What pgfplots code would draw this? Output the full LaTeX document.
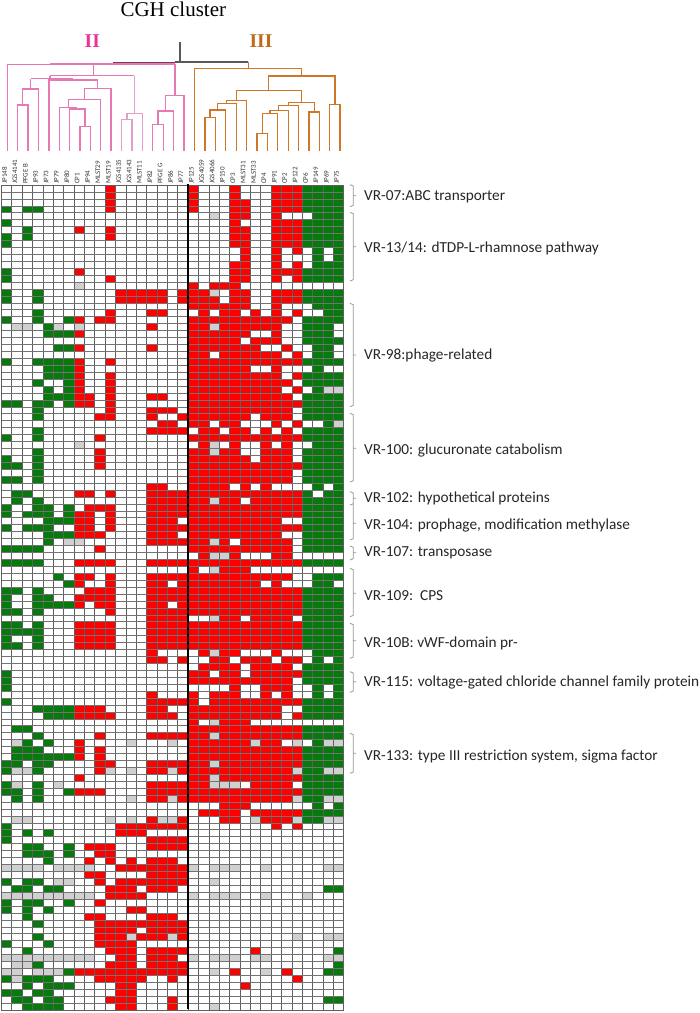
\documentclass[border=0pt]{standalone}
\usepackage{fontspec}
\setmainfont{Carlito}
\newfontfamily\serif{Liberation Serif}
\usepackage{pgfplots}
\usepackage{pgfplotstable}
\pgfplotsset{compat=1.18}
\definecolor{hred}{RGB}{254,0,0}
\definecolor{hgreen}{RGB}{6,122,12}
\definecolor{hgray}{RGB}{208,208,208}
\definecolor{gline}{RGB}{95,95,95}
\definecolor{dpink}{RGB}{230,120,180}
\definecolor{dpale}{RGB}{226,160,200}
\definecolor{dorange}{RGB}{208,118,40}
\definecolor{iipink}{RGB}{236,50,146}
\definecolor{iiiorange}{RGB}{190,106,24}
\definecolor{brace}{RGB}{150,150,150}
% one filled cell of the heat map, size in pt
\pgfdeclareplotmark{cell}{%
  \pgfpathrectangle{\pgfpoint{-5.25pt}{-3.5pt}}{\pgfpoint{10.5pt}{7pt}}%
  \pgfusepathqfill}
% 0 absent, 1 red, 2 green, 3 gray; rows top to bottom, 33 strains
\pgfplotstableread[header=false]{
0 0 0 0 0 0 0 0 0 0 1 0 0 0 0 0 0 0 1 0 0 0 1 0 0 0 1 1 1 2 2 2 2
0 0 0 0 0 0 0 0 0 0 1 0 0 0 0 0 0 0 1 0 0 0 1 0 0 0 1 1 1 2 2 2 2
0 0 0 0 0 0 0 0 0 0 1 0 0 0 0 0 0 0 1 0 0 0 1 1 0 0 1 1 1 2 2 2 2
2 0 2 2 0 0 0 0 0 0 1 0 0 0 0 0 0 0 1 0 0 0 1 1 0 0 1 1 1 2 2 2 2
0 0 0 0 0 0 0 0 0 0 0 0 0 0 0 0 0 0 0 0 3 0 1 1 0 0 1 0 0 0 2 2 2
2 0 0 0 0 0 0 0 0 0 0 0 0 0 0 0 0 0 0 0 0 0 1 0 0 0 1 1 1 2 2 2 2
0 0 2 0 0 0 0 1 0 0 1 0 0 0 0 0 0 0 0 0 0 0 1 1 0 0 1 1 1 2 2 2 2
2 0 2 0 0 0 0 0 0 0 1 0 0 0 0 0 0 0 0 0 0 0 1 1 0 0 1 1 1 2 2 2 2
2 0 0 0 0 0 0 0 0 0 0 0 0 0 0 0 0 0 0 0 0 0 1 1 0 0 1 1 1 2 2 2 2
0 0 0 0 0 0 0 0 0 0 0 0 0 0 0 0 0 0 0 0 0 0 0 1 0 0 1 0 1 0 2 0 2
0 0 0 0 0 0 0 0 0 0 0 0 0 0 0 0 0 0 0 0 0 0 0 1 0 0 1 0 0 0 2 0 2
0 0 0 0 0 0 0 0 0 0 0 0 0 0 0 0 0 0 0 0 0 0 1 1 0 0 1 0 1 0 2 2 2
2 0 0 0 0 0 0 1 0 0 0 0 0 0 0 0 0 0 0 0 0 0 1 1 0 0 1 1 1 2 2 2 2
2 0 0 0 0 0 0 0 0 0 1 0 0 0 0 0 0 0 0 0 0 0 1 1 0 0 1 0 1 2 2 2 2
0 0 0 0 0 0 0 3 0 0 0 0 0 0 0 0 0 0 1 0 1 1 1 0 0 0 0 0 0 0 0 0 0
2 0 0 2 0 0 0 0 0 0 0 1 1 1 1 1 0 1 1 1 3 0 1 1 0 0 1 1 1 2 2 2 2
2 0 0 2 0 0 0 0 0 0 0 1 1 1 1 1 0 1 1 1 1 0 1 1 0 0 1 1 1 2 2 2 2
0 0 0 0 0 0 0 0 0 0 0 0 0 0 0 0 0 0 1 1 1 1 1 1 0 0 1 0 0 0 2 2 2
0 0 0 2 0 0 0 0 0 0 1 0 0 0 1 1 0 0 0 1 0 1 1 0 1 0 1 0 1 0 0 2 2
2 0 0 2 0 0 2 1 0 1 1 0 0 0 0 0 0 0 1 1 1 1 1 1 1 1 1 1 0 2 2 2 2
0 3 3 0 2 3 0 3 0 0 0 0 0 0 1 0 0 0 1 1 3 1 1 1 1 1 1 0 0 2 2 2 0
0 0 0 0 2 2 2 1 0 0 0 0 0 0 0 0 0 0 1 1 1 1 1 1 0 0 1 0 0 2 2 2 0
0 0 0 0 0 0 0 0 0 0 0 0 0 0 0 0 0 0 1 1 1 1 1 0 1 1 1 0 0 2 2 2 2
0 0 0 0 0 2 2 1 0 0 0 0 0 0 1 0 0 0 1 1 1 1 1 1 1 0 0 1 0 0 2 2 0
0 0 0 0 0 0 0 0 0 0 0 0 0 0 0 0 0 0 1 1 0 1 1 1 1 1 1 0 1 0 2 2 0
2 0 0 2 2 2 2 1 0 0 1 0 0 0 0 0 0 0 1 1 1 1 1 1 1 1 1 1 1 2 2 2 2
0 0 0 0 2 2 2 1 0 0 0 0 0 0 0 0 0 0 1 1 1 1 1 1 0 0 1 0 0 0 2 0 0
0 0 0 0 2 2 2 1 0 0 1 0 0 0 0 0 0 0 1 1 1 1 1 1 1 1 1 0 1 2 2 2 2
0 0 0 2 0 0 2 1 0 0 1 0 0 0 0 0 0 0 1 1 1 1 1 1 1 1 1 1 0 2 2 2 2
0 0 0 0 2 0 2 1 0 0 1 0 0 0 0 0 0 0 1 1 1 1 1 1 1 1 1 0 1 0 2 3 3
0 0 0 0 2 2 2 1 1 0 1 0 0 0 1 1 0 0 1 1 1 1 1 1 1 1 1 1 0 2 2 2 2
2 2 0 2 2 0 2 1 1 0 1 0 0 0 0 0 0 0 1 1 1 1 1 1 1 1 1 1 1 2 2 2 2
0 0 0 2 0 0 0 0 0 0 1 0 0 0 1 1 1 0 1 1 1 1 1 1 1 1 1 1 0 2 2 2 2
0 0 0 2 0 0 0 0 0 1 1 0 0 0 1 0 0 1 1 1 1 1 1 1 0 1 1 1 0 2 2 2 2
0 0 0 0 0 0 0 0 0 0 0 0 0 0 0 1 1 0 1 1 0 1 1 0 0 0 1 0 1 0 0 2 3
0 0 0 2 0 0 0 0 0 0 0 0 0 0 1 1 1 1 0 1 1 0 1 1 0 1 0 1 0 2 2 2 2
2 0 0 2 0 0 0 0 0 1 0 0 0 0 0 0 0 0 1 1 1 1 1 1 1 1 1 1 1 2 2 2 2
0 0 0 0 0 0 0 3 0 0 0 0 0 0 0 0 0 0 0 1 3 0 1 0 0 1 0 1 0 0 2 2 2
0 0 0 2 0 0 0 0 0 1 0 0 0 0 0 0 0 0 1 1 3 1 1 0 0 1 1 1 0 2 2 2 2
2 0 0 2 0 0 0 0 0 1 0 0 0 0 0 0 0 0 1 1 1 1 1 1 0 1 1 1 0 2 2 2 2
2 2 0 2 0 0 0 0 0 1 0 0 0 0 0 0 0 0 1 1 1 1 1 1 1 1 1 1 1 2 2 2 2
0 0 0 2 0 0 0 0 0 0 0 0 0 0 0 0 0 0 1 1 1 1 1 1 1 1 1 1 0 2 2 2 2
2 2 0 2 0 0 0 0 0 0 0 0 0 0 0 0 0 0 1 1 1 1 1 1 1 1 1 1 0 2 2 2 2
0 0 0 0 0 0 0 0 0 0 0 0 0 0 1 1 0 0 1 1 1 1 0 1 0 1 0 0 0 0 2 0 2
0 2 2 0 0 0 0 1 1 0 1 0 0 0 1 1 1 1 1 1 1 1 1 1 1 1 1 1 1 2 0 2 2
0 2 0 2 0 0 0 0 0 0 0 0 0 0 1 1 1 1 1 1 3 1 1 0 1 1 1 1 1 2 2 2 2
2 0 0 2 2 0 2 0 1 1 1 0 0 0 1 1 1 1 1 1 1 1 1 1 1 1 1 1 1 2 2 2 2
2 0 2 2 2 0 2 1 1 0 1 0 0 0 1 1 1 1 1 1 1 1 1 1 1 1 1 1 1 2 2 2 2
0 0 0 0 2 2 2 1 1 0 1 0 0 0 1 1 1 0 1 1 1 1 1 1 1 1 1 0 0 2 2 2 2
2 0 2 2 2 0 0 1 1 0 1 0 0 0 1 1 1 1 1 1 1 1 1 1 1 1 1 1 1 2 2 2 2
0 0 0 0 2 2 2 1 1 1 0 0 0 0 1 1 1 0 1 1 1 1 1 1 1 1 1 0 0 2 2 2 2
0 0 0 0 2 0 3 3 0 0 0 0 0 0 1 1 1 1 1 1 3 1 0 1 1 1 1 1 0 2 2 2 2
2 2 2 2 0 0 0 0 0 1 0 0 0 0 0 0 0 0 1 1 1 1 1 1 1 1 1 1 0 2 2 2 2
0 0 0 0 0 0 0 0 0 0 0 0 0 0 0 0 0 0 0 1 3 3 1 0 0 0 1 1 0 0 0 0 0
2 2 2 2 0 0 0 1 1 1 1 0 0 0 1 1 1 1 1 1 1 1 1 1 1 1 1 1 1 2 2 2 2
0 0 0 0 0 0 0 0 0 0 0 0 0 0 0 0 0 0 1 0 3 1 1 1 0 0 0 0 0 0 0 0 0
0 0 0 0 0 2 0 1 1 0 1 0 0 0 1 1 1 1 1 1 1 1 1 1 1 1 1 1 0 0 2 2 2
0 0 0 0 0 0 2 1 0 0 1 0 0 0 1 1 0 1 1 1 1 1 1 1 1 0 1 0 0 0 2 2 0
2 2 0 2 0 0 0 0 1 1 1 0 0 0 1 1 1 1 1 1 1 1 1 1 1 1 1 1 1 2 2 2 2
2 0 0 2 2 0 0 1 1 1 1 0 0 0 1 1 1 1 1 1 1 1 1 1 1 1 1 1 1 2 2 2 2
2 0 0 2 2 2 2 1 0 1 1 0 0 0 1 1 0 1 1 1 1 1 1 1 1 1 1 1 1 2 2 2 2
2 2 0 2 0 0 0 0 0 0 1 0 0 0 1 1 1 1 1 1 1 1 1 1 1 1 1 1 1 2 2 2 2
0 0 0 0 0 0 0 0 0 0 0 0 0 0 1 1 1 1 0 0 3 1 1 0 1 1 1 1 0 2 2 2 2
2 2 0 2 0 0 0 1 1 1 1 0 0 0 1 1 1 1 1 1 1 1 1 1 1 1 1 1 1 2 2 2 2
2 2 2 2 0 0 0 1 1 1 1 0 0 0 1 1 1 1 1 1 1 1 1 1 1 1 1 1 1 2 2 2 2
2 0 0 2 0 0 0 1 1 1 1 0 0 0 1 1 1 1 1 1 1 1 1 1 1 1 1 1 1 2 2 2 2
2 2 0 2 0 0 0 1 1 1 1 0 0 0 1 1 1 1 1 1 1 1 1 1 1 1 1 1 1 2 2 2 2
0 0 0 0 0 0 0 0 0 0 0 0 0 0 1 0 0 0 0 1 3 1 1 0 0 0 1 0 0 0 2 2 2
0 0 0 0 0 0 0 0 0 0 0 0 0 0 1 1 0 1 0 0 1 1 0 1 1 1 0 1 1 0 2 0 2
0 0 0 0 0 0 0 0 0 0 0 0 0 0 0 0 0 0 0 1 1 1 1 0 1 1 1 1 0 2 2 2 2
2 0 0 0 0 0 0 0 0 0 0 0 0 0 0 0 0 0 1 1 0 1 1 0 1 1 1 1 1 2 2 2 2
2 0 0 0 0 0 0 0 0 0 0 0 0 0 0 0 0 0 1 1 1 1 1 1 1 1 1 1 0 2 2 2 2
2 0 0 0 0 0 0 0 0 0 0 0 0 0 0 0 0 0 0 0 0 0 1 0 0 1 1 1 0 0 2 0 2
0 0 0 0 0 0 0 0 0 0 0 0 0 0 1 0 0 0 1 0 1 1 1 0 0 1 0 1 0 0 2 0 2
2 0 0 0 0 0 0 0 0 0 0 0 0 0 1 1 1 1 1 0 1 1 1 1 1 1 1 1 1 2 2 2 2
0 0 0 2 2 2 2 1 1 1 0 0 0 0 1 1 0 0 1 1 1 1 1 1 1 1 1 0 0 2 2 2 2
0 0 0 0 2 2 2 1 1 1 1 0 0 0 1 1 1 0 1 1 1 1 1 1 1 1 1 0 1 2 2 2 2
0 0 0 0 0 0 0 0 0 0 0 0 0 0 0 0 0 0 1 0 3 1 1 1 0 0 0 0 0 0 0 0 0
0 2 2 0 0 0 0 0 0 0 0 0 0 0 0 0 0 0 1 1 1 1 1 1 1 1 1 1 1 2 2 2 2
0 0 0 2 0 0 0 0 0 1 0 0 0 0 1 1 1 1 1 1 3 1 1 1 1 1 1 1 1 2 2 2 2
0 3 2 0 2 0 0 1 0 0 0 0 3 0 0 0 3 0 1 1 1 1 1 1 3 1 1 0 3 0 2 3 3
0 2 2 2 0 0 0 1 0 1 0 0 0 0 0 0 0 0 1 1 1 1 1 1 1 1 1 1 1 2 2 2 2
0 2 2 2 2 2 2 1 0 1 0 0 0 0 0 0 0 0 1 1 1 1 1 1 1 1 1 1 1 2 2 2 2
2 2 0 2 2 0 0 0 0 1 1 0 0 0 1 1 1 1 1 1 3 1 1 1 1 1 1 1 1 2 2 2 2
2 3 3 2 0 0 0 0 0 1 3 0 3 0 1 1 3 1 1 1 1 1 1 1 1 1 1 1 3 2 2 3 3
0 0 0 0 0 0 0 1 0 0 0 0 0 0 0 0 0 0 1 1 3 1 1 1 1 1 1 1 1 2 2 2 2
2 3 0 2 0 3 0 0 0 0 0 0 0 0 1 1 1 1 1 1 3 3 3 0 1 1 1 1 0 2 2 2 2
2 2 0 2 0 0 2 1 1 1 0 0 0 0 1 1 1 1 1 1 1 1 1 1 1 1 1 1 1 2 2 2 2
0 2 0 2 0 0 0 0 0 0 0 0 3 0 1 1 3 1 1 1 1 1 1 1 1 1 1 1 3 2 2 3 3
0 0 0 0 0 0 0 0 0 0 0 0 0 0 0 0 0 0 0 0 0 1 1 1 0 0 0 0 0 0 2 0 2
0 0 0 0 0 0 0 0 0 0 0 0 0 0 0 0 0 0 0 1 1 1 1 0 1 1 1 1 1 2 2 2 2
0 3 3 0 0 0 0 0 0 0 3 0 3 0 1 3 3 1 0 0 0 1 1 0 3 1 1 1 3 2 2 3 3
2 0 0 0 0 0 0 0 0 0 0 1 1 1 1 1 1 1 0 0 0 0 0 0 0 0 1 0 1 0 0 0 0
2 0 2 0 2 0 0 0 0 0 0 1 1 1 0 0 0 0 0 0 0 0 0 0 0 0 0 0 0 0 0 0 0
2 0 0 0 0 0 0 0 0 0 0 0 0 0 1 1 1 1 0 0 0 0 0 0 0 0 0 0 0 0 0 0 0
0 0 2 2 0 0 2 0 1 1 1 0 0 0 1 1 1 1 0 0 0 0 0 0 0 0 0 0 0 0 0 0 0
0 0 2 2 2 0 2 0 0 1 1 0 0 0 0 0 0 0 0 0 0 0 0 0 0 0 0 0 0 0 0 0 0
0 0 0 0 2 0 0 0 1 0 1 0 1 0 1 1 1 0 0 0 0 0 0 0 0 0 0 0 0 0 0 0 0
3 3 3 3 0 3 3 3 3 0 0 1 1 1 1 1 1 1 3 0 3 3 3 0 0 3 0 0 0 0 0 3 3
0 0 0 0 0 0 0 0 1 1 0 0 0 0 1 1 1 1 0 0 0 0 0 0 0 0 0 0 0 0 0 0 0
2 0 2 2 0 3 3 0 0 1 0 1 1 1 1 1 1 1 0 0 3 0 0 0 0 0 0 0 0 0 0 0 0
0 2 2 0 2 2 0 0 0 0 1 1 1 0 1 1 1 0 0 0 0 0 0 0 0 0 0 0 0 0 0 2 2
3 3 3 3 3 3 3 3 3 0 1 1 1 1 0 0 0 0 3 0 3 3 3 0 0 3 0 0 0 3 0 0 0
2 0 2 2 0 0 2 0 0 1 0 0 0 0 0 0 0 0 0 0 0 0 0 0 0 0 0 0 0 0 0 0 0
2 0 2 0 2 0 0 0 0 0 0 0 1 1 0 0 0 0 0 0 0 0 0 0 0 0 0 0 0 0 0 0 0
0 0 2 0 0 0 0 0 1 1 0 0 0 0 1 1 1 0 0 0 0 0 0 0 0 0 0 0 0 0 0 0 0
0 0 0 2 0 0 0 0 0 1 1 1 1 1 1 1 1 1 0 0 0 0 0 0 0 0 0 0 0 0 0 0 0
0 0 0 0 0 0 0 0 0 1 1 1 1 0 1 1 1 1 0 0 0 0 0 0 0 0 0 0 0 0 0 0 0
0 0 0 2 0 0 0 0 0 1 1 1 3 1 1 1 3 1 0 0 0 0 0 0 0 0 0 0 3 0 0 3 3
2 0 0 0 2 0 0 0 0 1 1 1 1 0 0 0 0 0 0 0 0 0 0 0 0 0 0 0 0 0 0 0 0
0 0 2 0 0 0 0 0 0 0 1 1 1 0 1 1 1 1 0 0 0 0 0 0 1 0 0 0 0 0 0 0 2
3 3 3 3 3 3 3 3 3 0 0 1 1 0 1 1 1 0 3 0 3 3 3 0 3 3 0 0 0 0 0 3 3
0 3 3 2 0 0 0 0 0 0 1 1 1 0 1 1 1 1 0 0 0 0 0 0 0 0 0 0 0 0 0 0 2
3 3 0 3 3 3 2 1 1 1 1 1 1 1 1 1 1 1 0 0 3 0 1 0 0 3 0 1 0 0 0 2 2
2 3 2 2 2 0 0 0 0 1 1 1 1 1 0 0 1 0 0 0 0 0 0 0 0 0 0 0 1 0 0 0 0
0 0 2 0 2 2 2 0 0 0 0 1 1 0 0 0 0 0 0 0 0 0 0 1 0 0 0 0 0 0 0 0 0
2 2 0 2 2 0 0 0 0 0 0 1 1 0 0 0 0 0 0 0 0 0 0 0 0 0 0 0 0 0 0 0 0
0 2 2 0 2 2 0 0 0 0 1 1 1 0 0 0 1 0 0 0 0 0 0 0 0 0 0 0 0 0 0 2 2
0 0 2 2 2 2 0 0 0 0 0 1 1 0 0 0 1 0 0 0 3 0 0 0 0 0 0 0 0 0 0 0 0
}\cells
\begin{document}
\begin{tikzpicture}
\useasboundingbox (0,0) rectangle (700pt,1013pt);
% overlay axis, in units of a third of a reference pixel, y down
\begin{axis}[
    at={(0,0)}, anchor=south west, scale only axis,
    width=700pt, height=1013pt,
    xmin=0, xmax=2100, ymin=0, ymax=3039, y dir=reverse,
    hide axis, clip=false,
  ]
  % dendrogram, pink branches
  \addplot[no marks, line width=1.5pt, dpink, unbounded coords=jump] coordinates {
    (22,452)(22,193)(525,193)(525,287) (0,nan)
    (150,190)(525,190) (0,nan)
    (280,193)(280,227) (0,nan)
    (150,227)(403,227) (0,nan)
    (150,227)(150,236) (0,nan)
    (92,236)(220,236) (0,nan)
    (92,267)(92,236) (0,nan)
    (68,315)(68,267)(115,267)(115,452) (0,nan)
    (52,452)(52,315)(84,315)(84,452) (0,nan)
    (220,236)(220,240) (0,nan)
    (147,452)(147,240)(293,240)(293,266) (0,nan)
    (253,298)(253,266)(333,266)(333,452) (0,nan)
    (205,323)(205,298)(302,298)(302,452) (0,nan)
    (178,452)(178,323)(232,323) (0,nan)
    (209,452)(209,327)(255,327)(255,380) (0,nan)
    (240,452)(240,380)(271,380)(271,452) (0,nan)
    (497,333)(497,287)(552,287)(552,452) (0,nan)
    (474,373)(474,333)(521,333)(521,452) (0,nan)
    (458,452)(458,373)(490,373)(490,452)
  };
  \addplot[no marks, line width=1.5pt, dpale, unbounded coords=jump] coordinates {
    (403,227)(403,340) (0,nan)
    (381,358)(381,340)(427,340)(427,452) (0,nan)
    (365,452)(365,358)(396,358)(396,452)
  };
  % dendrogram, orange branches
  \addplot[no marks, line width=1.5pt, dorange, unbounded coords=jump] coordinates {
    (745,186)(745,205) (0,nan)
    (584,452)(584,205)(905,205)(905,228) (0,nan)
    (806,272)(806,228)(1005,228)(1005,313) (0,nan)
    (989,452)(989,313)(1020,313)(1020,452) (0,nan)
    (709,302)(709,272)(905,272)(905,307) (0,nan)
    (680,310)(680,302)(740,302)(740,452) (0,nan)
    (652,330)(652,310)(709,310)(709,452) (0,nan)
    (630,352)(630,330)(677,330)(677,452) (0,nan)
    (615,452)(615,352)(646,352)(646,452) (0,nan)
    (866,316)(866,307)(943,307)(943,336) (0,nan)
    (927,452)(927,336)(958,336)(958,452) (0,nan)
    (836,332)(836,316)(896,316)(896,452) (0,nan)
    (810,341)(810,332)(865,332)(865,452) (0,nan)
    (787,400)(787,341)(833,341)(833,452) (0,nan)
    (771,452)(771,400)(802,400)(802,452)
  };
  % root
  \addplot[no marks, line width=1.1pt, black!65] coordinates {(540,125)(540,186)};
  \addplot[no marks, line width=1.1pt, black!65] coordinates {(525,186)(745,186)};
  \addplot[no marks, line width=1.1pt, black!50!dpink] coordinates {(338,187)(525,187)};
  % braces at the right
  \addplot[no marks, line width=0.8pt, brace, unbounded coords=jump] coordinates {
    (1050,554)(1060,558)(1060,616)(1050,620) (0,nan) (1060,587)(1068,587) (0,nan)
    (1050,637)(1060,641)(1060,839)(1050,843) (0,nan) (1060,740)(1068,740) (0,nan)
    (1050,910)(1060,914)(1060,1216)(1050,1220) (0,nan) (1060,1065)(1068,1065) (0,nan)
    (1050,1240)(1060,1244)(1060,1442)(1050,1446) (0,nan) (1060,1345)(1068,1345) (0,nan)
    (1050,1475)(1060,1479)(1060,1511)(1050,1515) (0,nan) (1060,1495)(1068,1495) (0,nan)
    (1060,1511)(1060,1616)(1050,1620) (0,nan) (1060,1570)(1068,1570) (0,nan)
    (1050,1638)(1060,1642)(1060,1676)(1050,1680) (0,nan) (1060,1658)(1068,1658) (0,nan)
    (1050,1705)(1060,1709)(1060,1846)(1050,1850) (0,nan) (1060,1780)(1068,1780) (0,nan)
    (1050,1870)(1060,1874)(1060,1971)(1050,1975) (0,nan) (1060,1922)(1068,1922) (0,nan)
    (1050,2015)(1060,2019)(1060,2073)(1050,2077) (0,nan) (1060,2045)(1068,2045) (0,nan)
    (1050,2200)(1060,2204)(1060,2316)(1050,2320) (0,nan) (1060,2260)(1068,2260)
  };
  \node[font=\serif\fontsize{21}{25}\selectfont, black] at (axis cs:520,28) {CGH cluster};
  \node[font=\serif\bfseries\fontsize{19.5}{21}\selectfont, iipink] at (axis cs:277,122) {II};
  \node[font=\serif\bfseries\fontsize{19.5}{21}\selectfont, iiiorange] at (axis cs:783,122) {III};
  \begin{scope}[every node/.style={anchor=west, inner sep=0pt, font=\fontsize{15.3}{17}\selectfont, text=black!85}]
    \node at (axis cs:1092,590) {VR-07:ABC transporter};
    \node at (axis cs:1092,745) {VR-13/14: dTDP-L-rhamnose pathway};
    \node at (axis cs:1092,1066) {VR-98:phage-related};
    \node at (axis cs:1092,1351) {VR-100: glucuronate catabolism};
    \node at (axis cs:1092,1495) {VR-102: hypothetical proteins};
    \node at (axis cs:1092,1575) {VR-104: prophage, modification methylase};
    \node at (axis cs:1092,1658) {VR-107: transposase};
    \node at (axis cs:1092,1786) {VR-109:\ \ CPS};
    \node at (axis cs:1092,1930) {VR-10B: vWF-domain pr-};
    \node at (axis cs:1092,2047) {VR-115: voltage-gated chloride channel family protein};
    \node at (axis cs:1092,2271) {VR-133: type III restriction system, sigma factor};
  \end{scope}
\end{axis}
% heat map cells: columns are strains, rows are genes
\begin{axis}[
    at={(1.33pt,3pt)}, anchor=south west, scale only axis,
    width=342.4pt, height=825pt,
    xmin=0, xmax=33, ymin=0, ymax=119, y dir=reverse,
    hide axis, clip=false,
  ]
  \pgfplotsinvokeforeach{0,...,32}{
    \addplot[scatter, only marks, forget plot, scatter src=explicit symbolic,
      scatter/classes={0={mark=cell,white},1={mark=cell,hred},2={mark=cell,hgreen},3={mark=cell,hgray}}]
      table[x expr=#1+0.5, y expr=\coordindex+0.5, meta index=#1] {\cells};
  }
\end{axis}
% grid, strain names and the bar between the two groups, over the cells
\begin{axis}[
    at={(1.33pt,3pt)}, anchor=south west, scale only axis,
    width=342.4pt, height=825pt,
    xmin=0, xmax=33, ymin=0, ymax=119, y dir=reverse,
    clip=false,
    axis line style={gline, line width=0.6pt},
    major tick length=0pt, minor tick length=0pt,
    xtick={0.5,1.5,...,32.5}, ytick={0,1,...,119}, yticklabels=\empty,
    xticklabels={JP148,JGS4141,PFGE B,JP93,JP73,JP79,JP80,CP1,JP94,MLST29,MLST19,JGS4135,JGS4143,MLST11,JP82,PFGE G,JP86,JP77,JP125,JGS4059,JGS4066,JP150,CP3,MLST31,MLST33,CP4,JP91,CP2,JP122,CP6,JP149,JP69,JP75},
    xticklabel pos=upper,
    x tick label style={rotate=90, anchor=west, font=\fontsize{7}{8}\selectfont, inner sep=1pt, text=black!80, yshift=2pt},
    minor xtick={0,1,...,33},
    xminorgrids=true, ymajorgrids=true,
    minor grid style={gline, line width=0.6pt},
    major grid style={black!55, line width=0.6pt},
  ]
  \addplot[no marks, black, line width=2.2pt] coordinates {(18,-0.2)(18,118.8)};
\end{axis}
\end{tikzpicture}
\end{document}
